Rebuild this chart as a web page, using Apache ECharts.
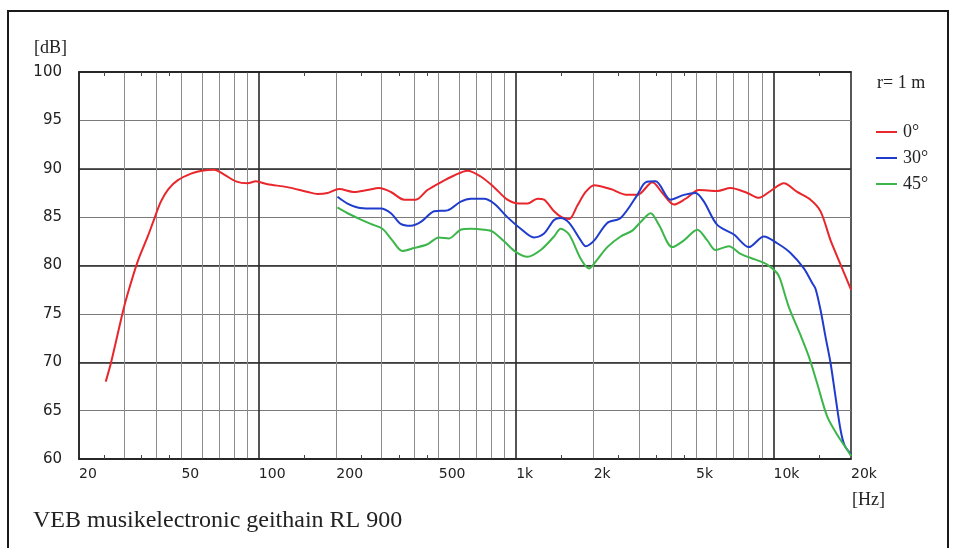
<!DOCTYPE html>
<html><head><meta charset="utf-8">
<script src="https://cdn.jsdelivr.net/npm/echarts@6/dist/echarts.min.js"></script>
<style>html,body{margin:0;padding:0;background:#fff}#c{width:953px;height:548px}</style>
</head><body><div id="c"></div>
<script>
// 0° curve
const freq0 = [25.4,26.6,29.6,30.7,33.8,37,38.7,41.6,44.5,48.3,54.5,60,67,73.3,81.4,90.4,97.4,108,129,155,169,185,205,234,264,293,326,367,407,452,509,574,646,728,820,924,1026,1106,1209,1283,1403,1500,1606,1729,1862,2011,2329,2704,2958,3383,3698,4103,4553,5129,6041,6808,7906,8770,9737,10965,12355,13920,15230,16660,18220,20000];
const db0   = [68.0,69.9,75.2,76.8,80.4,83.0,84.4,86.6,87.9,88.8,89.5,89.8,89.9,89.4,88.7,88.5,88.7,88.4,88.1,87.6,87.4,87.5,87.9,87.6,87.8,88.0,87.6,86.8,86.8,87.8,88.6,89.3,89.8,89.2,88.1,86.8,86.4,86.4,86.9,86.8,85.6,85.0,84.8,86.2,87.6,88.3,87.9,87.3,87.3,88.6,87.5,86.3,86.9,87.8,87.7,88.0,87.5,87.0,87.7,88.5,87.6,86.8,85.6,82.6,80.1,77.5];
// 30° curve
const freq30 = [202,221,242,270,298,326,356,389,426,480,541,609,666,750,820,924,1041,1172,1283,1403,1489,1606,1781,1862,2011,2259,2546,2958,3183,3482,3981,4486,4978,5364,6041,7015,8020,9167,10335,11641,13115,14130,14560,15230,15930,16660,17420,18220,18880,20000];
const db30   = [87.1,86.4,86.0,85.9,85.9,85.4,84.3,84.1,84.5,85.6,85.7,86.6,86.9,86.9,86.4,85.0,83.8,82.9,83.3,84.7,84.9,84.4,82.6,82.0,82.6,84.4,84.9,87.3,88.6,88.7,86.8,87.3,87.5,86.6,84.2,83.2,81.9,83.0,82.3,81.3,79.7,78.2,77.6,75.4,72.6,69.9,66.4,63.0,61.4,60.5];
// 45° curve
const freq45 = [202,221,242,272,302,330,361,401,452,501,548,609,666,750,809,897,995,1106,1245,1403,1489,1606,1781,1918,2036,2259,2546,2826,3044,3330,3587,4043,4486,5055,5529,5955,6709,7447,8515,9451,10335,10642,11470,12735,13710,14780,16160,17680,19500,20000];
const db45   = [86.0,85.4,84.9,84.3,83.8,82.6,81.5,81.8,82.2,82.9,82.8,83.7,83.8,83.7,83.5,82.5,81.4,80.9,81.6,83.0,83.8,83.2,80.7,79.7,80.4,81.9,83.0,83.6,84.5,85.4,84.2,81.9,82.6,83.7,82.6,81.6,82.0,81.2,80.6,80.1,79.2,78.5,75.7,72.8,70.6,67.8,64.4,62.5,60.8,60.3];

const seriesNames = ['0°','30°','45°'];
const xLabelValues = [20,50,100,200,500,1000,2000,5000,10000,20000];
const xSmallTicks = [25,35,45,150,250,350,450,1500,2500,3500,4500,15000];
const xMinorGrid = [30,40,50,60,70,80,90,200,300,400,500,600,700,800,900,2000,3000,4000,5000,6000,7000,8000,9000];
const xDecadeGrid = [100,1000,10000];
const yMin = 60, yMax = 100, yStep = 5;

const pairs = (f, d) => f.map((v, i) => [v, d[i]]);
const serif = "'Liberation Serif','DejaVu Serif',serif";
const sans = "'DejaVu Sans',Verdana,sans-serif";
const colors = ['#e8262b','#1f3ccc','#3cb64a'];

const baseLog = {type:'log', logBase:10, min:20, max:20000, gridIndex:0};

const chart = echarts.init(document.getElementById('c'), null, {renderer:'canvas'});
chart.setOption({
  animation:false,
  backgroundColor:'#fff',
  graphic:[{type:'rect', shape:{x:8, y:11, width:940, height:560}, style:{fill:'none', stroke:'#1a1a1a', lineWidth:2}, silent:true, z:-1}],
  title:[
    {text:'[dB]', left:29, top:34, textStyle:{fontFamily:serif, fontSize:18, fontWeight:'normal', color:'#222'}},
    {text:'r= 1 m', left:872, top:69, textStyle:{fontFamily:serif, fontSize:18, fontWeight:'normal', color:'#222'}},
    {text:'[Hz]', left:847, top:486, textStyle:{fontFamily:serif, fontSize:18, fontWeight:'normal', color:'#222'}},
    {text:'VEB musikelectronic geithain RL 900', left:28, top:504, textStyle:{fontFamily:serif, fontSize:24, fontWeight:'normal', color:'#222'}}
  ],
  legend:{
    orient:'vertical', left:876, top:123, padding:0, itemGap:8, itemWidth:21, itemHeight:2, icon:'rect',
    data:seriesNames,
    textStyle:{fontFamily:serif, fontSize:18, lineHeight:18, color:'#222', padding:[0,0,0,1]}
  },
  grid:{left:79, right:102, top:72, bottom:89, show:true, borderColor:'#222', borderWidth:1.5, backgroundColor:'transparent'},
  xAxis:[
    Object.assign({}, baseLog, {position:'bottom',
      axisLine:{show:true, lineStyle:{color:'#222', width:1.5}},
      axisTick:{show:true, inside:true, length:4, customValues:xSmallTicks, lineStyle:{color:'#444'}},
      axisLabel:{show:true, customValues:xLabelValues, align:'left', margin:8, fontFamily:sans, fontSize:14, color:'#222',
        formatter:v=>{v=Math.round(v);return v>=1000?(v/1000)+'k':String(v);}},
      splitLine:{show:false}}),
    Object.assign({}, baseLog, {position:'top',
      axisLine:{show:true, lineStyle:{color:'#222', width:1.5}},
      axisTick:{show:true, inside:true, length:4, customValues:xSmallTicks, lineStyle:{color:'#444'}},
      axisLabel:{show:false}, splitLine:{show:false}}),
    Object.assign({}, baseLog, {position:'bottom',
      axisLine:{show:false}, axisTick:{show:false, customValues:xMinorGrid}, axisLabel:{show:false},
      splitLine:{show:true, lineStyle:{color:'#8c8c8c', width:1}}}),
    Object.assign({}, baseLog, {position:'top',
      axisLine:{show:false}, axisTick:{show:false, customValues:xDecadeGrid}, axisLabel:{show:false},
      splitLine:{show:true, lineStyle:{color:'#2a2a2a', width:1.6}}})
  ],
  yAxis:[
    {type:'value', min:yMin, max:yMax, interval:yStep, position:'left',
      axisLine:{show:true, lineStyle:{color:'#222', width:1.5}}, axisTick:{show:false},
      axisLabel:{margin:17, fontFamily:sans, fontSize:15, color:'#222'},
      splitLine:{show:true, lineStyle:{color:'#7a7a7a', width:1}}},
    {type:'value', min:yMin, max:yMax, interval:yStep*2, position:'right',
      axisLine:{show:false}, axisTick:{show:false}, axisLabel:{show:false},
      splitLine:{show:true, lineStyle:{color:'#2a2a2a', width:1.6}}}
  ],
  series:[
    {name:seriesNames[0], type:'line', data:pairs(freq0, db0), symbol:'none', smooth:0.3, lineStyle:{color:colors[0], width:2}, itemStyle:{color:colors[0]}, z:3},
    {name:seriesNames[1], type:'line', data:pairs(freq30, db30), symbol:'none', smooth:0.3, lineStyle:{color:colors[1], width:2}, itemStyle:{color:colors[1]}, z:4},
    {name:seriesNames[2], type:'line', data:pairs(freq45, db45), symbol:'none', smooth:0.3, lineStyle:{color:colors[2], width:2}, itemStyle:{color:colors[2]}, z:5}
  ]
});
</script></body></html>
